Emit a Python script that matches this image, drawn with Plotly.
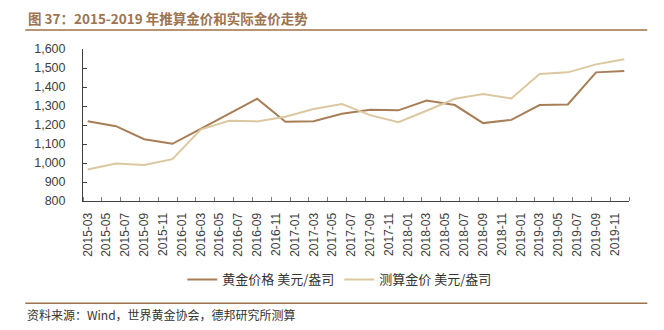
import plotly.graph_objects as go

# monthly category axis 2015-03 .. 2019-12
months = []
y, m = 2015, 3
while (y, m) <= (2019, 12):
    months.append(f"{y}-{m:02d}")
    m += 1
    if m > 12:
        y, m = y + 1, 1

# quarterly observations
dates = ["2015-03", "2015-06", "2015-09", "2015-12", "2016-03", "2016-06", "2016-09",
         "2016-12", "2017-03", "2017-06", "2017-09", "2017-12", "2018-03", "2018-06",
         "2018-09", "2018-12", "2019-03", "2019-06", "2019-09", "2019-12"]
gold_price = [1220, 1194, 1125, 1101, 1180, 1259, 1338, 1217, 1220, 1259,
              1280, 1277, 1329, 1305, 1210, 1227, 1305, 1308, 1477, 1484]
est_price = [966, 997, 990, 1020, 1176, 1222, 1219, 1243, 1284, 1310,
             1252, 1215, 1275, 1338, 1363, 1340, 1468, 1477, 1519, 1546]

tick_labels = months[::2]
tick_pos = [months.index(t) for t in tick_labels]
xs = [months.index(d) for d in dates]

DARK = "#A77E56"
LIGHT = "#DCC8A0"
TITLE_C = "#9C7450"
FONT = "Liberation Sans, Arial, Noto Sans CJK SC"
CJK = "Noto Sans CJK SC, Liberation Sans"

fig = go.Figure()
fig.add_trace(go.Scatter(x=xs, y=gold_price, mode="lines", name="黄金价格 美元/盎司",
                         line=dict(color=DARK, width=2)))
fig.add_trace(go.Scatter(x=xs, y=est_price, mode="lines", name="测算金价 美元/盎司",
                         line=dict(color=LIGHT, width=2)))

L, R, T, B = 82.7, 35.3, 49, 129.3
W, H = 664, 330
pw, ph = W - L - R, H - T - B

def px(xp):
    return (xp - L) / pw

def py(yp):
    return (H - B - yp) / ph

fig.update_layout(
    width=W, height=H,
    margin=dict(l=L, r=R, t=T, b=B, pad=0),
    paper_bgcolor="white", plot_bgcolor="white",
    font=dict(family=FONT, size=12, color="#333333"),
    showlegend=True,
    legend=dict(orientation="h", x=px(182), xanchor="left", y=py(279), yanchor="middle",
                font=dict(family=CJK, size=13, color="#333333"),
                itemwidth=30, tracegroupgap=0, bgcolor="rgba(0,0,0,0)"),
    xaxis=dict(range=[-0.5, len(months) - 0.5], tickmode="array", tickvals=tick_pos,
               ticktext=tick_labels, tickangle=-90, ticks="", showgrid=False,
               zeroline=False, showline=True, linecolor="#404040", linewidth=1,
               tickfont=dict(family=FONT, size=12, color="#404040"), ticklabelstandoff=6,
               minor=dict(ticks="inside", tick0=-0.5, dtick=2, ticklen=4,
                          tickcolor="#808080", showgrid=False)),
    yaxis=dict(range=[800, 1600], dtick=100, tickformat=",", ticks="inside", ticklen=4,
               tickcolor="#404040", showgrid=False, zeroline=False, showline=True,
               linecolor="#404040", linewidth=1,
               tickfont=dict(family=FONT, size=12.5, color="#404040"), ticklabelstandoff=14),
)

fig.add_annotation(text="<b>图 37：2015-2019 年推算金价和实际金价走势</b>", xref="paper", yref="paper",
                   x=px(26), y=py(18), xanchor="left", yanchor="middle", showarrow=False,
                   font=dict(family=CJK, size=13.5, color=TITLE_C))
fig.add_annotation(text="资料来源：Wind，世界黄金协会，德邦研究所测算", xref="paper", yref="paper",
                   x=px(25), y=py(314), xanchor="left", yanchor="middle", showarrow=False,
                   font=dict(family=CJK, size=12, color="#333333"))
fig.add_shape(type="line", xref="paper", yref="paper", x0=px(25), x1=px(647),
              y0=py(30), y1=py(30), line=dict(color="#A0724A", width=1.5))
fig.add_shape(type="line", xref="paper", yref="paper", x0=px(25), x1=px(647),
              y0=py(302.7), y1=py(302.7), line=dict(color="#A0724A", width=1.5))

fig.write_html("out.html")
